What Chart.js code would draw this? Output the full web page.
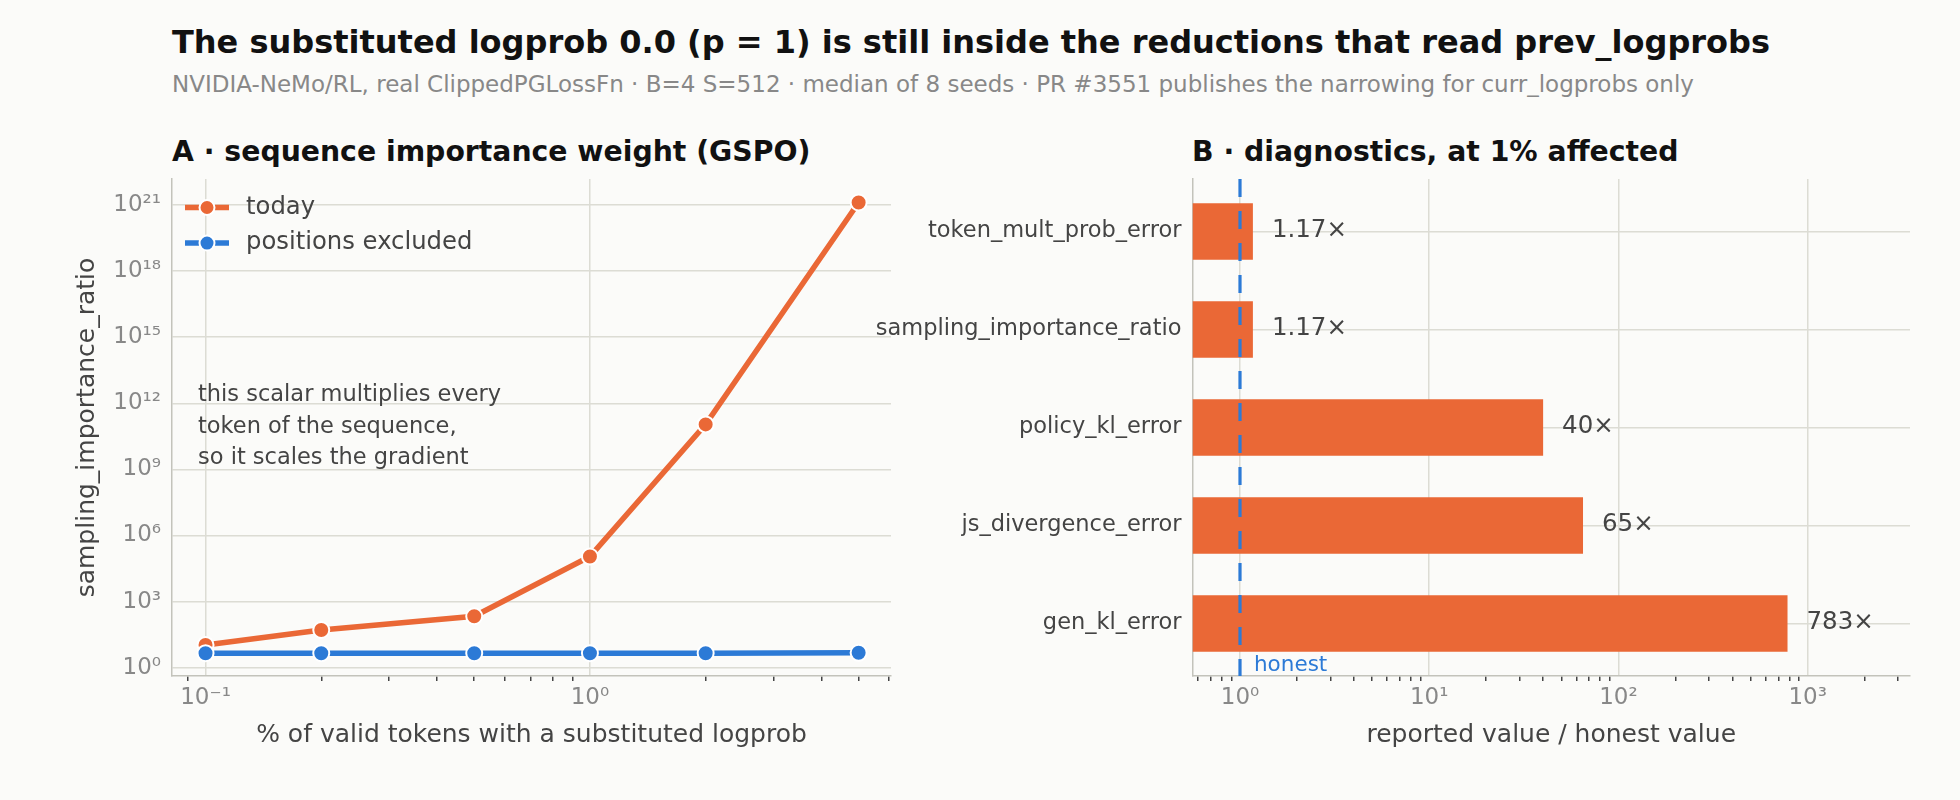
<!DOCTYPE html>
<html>
<head>
<meta charset="utf-8">
<script src="https://cdn.jsdelivr.net/npm/chart.js@4.4.1/dist/chart.umd.min.js"></script>
<style>
  html, body { margin: 0; padding: 0; background: #fbfbf9; }
  body { width: 1960px; height: 800px; position: relative; overflow: hidden; font-family: 'DejaVu Sans', sans-serif; }
  #titulo { position: absolute; left: 172px; top: 22.8px; font-size: 32px; line-height: normal; font-weight: bold; color: #111; white-space: nowrap; }
  #subtitulo { position: absolute; left: 172px; top: 71.2px; font-size: 23px; line-height: normal; color: #888; white-space: nowrap; }
  .panel { position: absolute; top: 135px; font-size: 28.3px; line-height: normal; font-weight: bold; color: #111; white-space: nowrap; }
  canvas { position: absolute; top: 0; }
</style>
</head>
<body>
<div id="titulo">The substituted logprob 0.0 (p = 1) is still inside the reductions that read prev_logprobs</div>
<div id="subtitulo">NVIDIA-NeMo/RL, real ClippedPGLossFn · B=4 S=512 · median of 8 seeds · PR #3551 publishes the narrowing for curr_logprobs only</div>
<div class="panel" style="left:172px">A · sequence importance weight (GSPO)</div>
<div class="panel" style="left:1192px">B · diagnostics, at 1% affected</div>
<canvas id="grafico-a" width="980" height="800" style="left:0"></canvas>
<canvas id="grafico-b" width="1100" height="800" style="left:860px"></canvas>
<script>
// Panel A: % de tokens sustituidos vs ratio
const pctTokens = [0.1, 0.2, 0.5, 1, 2, 5];
const ratioHoy = [10.7, 51, 215, 1.1e5, 1.1e11, 1.3e21];
const ratioExcluidas = [4.5, 4.5, 4.5, 4.5, 4.5, 4.7];
const xMayores = [0.1, 1];
const xEtiquetas = ['10⁻¹', '10⁰'];
const yMayores = [1, 1e3, 1e6, 1e9, 1e12, 1e15, 1e18, 1e21];
const yEtiquetas = ['10⁰', '10³', '10⁶', '10⁹', '10¹²', '10¹⁵', '10¹⁸', '10²¹'];
const notaA = ['this scalar multiplies every', 'token of the sequence,', 'so it scales the gradient'];

// Panel B: diagnosticos al 1%
const metricas = ['token_mult_prob_error', 'sampling_importance_ratio', 'policy_kl_error', 'js_divergence_error', 'gen_kl_error'];
const factores = [1.17, 1.17, 40, 65, 783];
const bMayores = [1, 10, 100, 1000];
const bEtiquetas = ['10⁰', '10¹', '10²', '10³'];
const valorHonesto = 1;

const NARANJA = '#ea6836';
const AZUL = '#2c7ad6';
const REJILLA = '#dcdcd4';
const EJE = '#c3c3bb';

Chart.defaults.font.family = "'DejaVu Sans', sans-serif";
Chart.defaults.color = '#444';

function indiceMayor(v, mayores) {
  if (v == null) return -1;
  return mayores.findIndex(m => Math.abs(v / m - 1) < 1e-9);
}

// marcas menores de un eje log (1..9 por decada)
function ticksLog(min, max) {
  const out = [];
  for (let e = Math.floor(Math.log10(min)); e <= Math.ceil(Math.log10(max)); e++) {
    for (let m = 1; m < 10; m++) {
      const v = m * Math.pow(10, e);
      if (v >= min && v <= max) out.push({ value: v });
    }
  }
  return out;
}

function ejeXLog(min, max, mayores, etiquetas, titulo) {
  return {
    type: 'logarithmic',
    min: min,
    max: max,
    afterBuildTicks: s => { s.ticks = ticksLog(min, max); },
    afterFit: s => { s.height = 124; },
    ticks: {
      autoSkip: false, maxRotation: 0, color: '#888', font: { size: 23 }, padding: 3,
      callback: v => { const i = indiceMayor(v, mayores); return i >= 0 ? etiquetas[i] : ''; }
    },
    grid: {
      color: c => indiceMayor(c.tick && c.tick.value, mayores) >= 0 ? REJILLA : 'rgba(0,0,0,0)',
      tickColor: c => indiceMayor(c.tick && c.tick.value, mayores) >= 0 ? 'rgba(0,0,0,0)' : '#444',
      lineWidth: 1.5, tickWidth: 1.5, tickLength: 5
    },
    border: { color: EJE, width: 1.5 },
    title: { display: true, text: titulo, color: '#444', font: { size: 25 }, padding: { top: 0, bottom: 50 } }
  };
}

// leyenda y nota dentro del area del grafico A
const extrasA = {
  id: 'extrasA',
  afterDraw(chart) {
    const { ctx, chartArea: a } = chart;
    ctx.save();
    chart.data.datasets.forEach((ds, i) => {
      const y = a.top + 28.5 + i * 35.6;
      ctx.strokeStyle = ds.borderColor;
      ctx.lineWidth = 5.5;
      ctx.beginPath();
      ctx.moveTo(a.left + 13, y);
      ctx.lineTo(a.left + 57, y);
      ctx.stroke();
      ctx.fillStyle = ds.borderColor;
      ctx.strokeStyle = '#fff';
      ctx.lineWidth = 2;
      ctx.beginPath();
      ctx.arc(a.left + 35, y, 7.5, 0, Math.PI * 2);
      ctx.fill();
      ctx.stroke();
      ctx.fillStyle = '#444';
      ctx.font = "24.3px 'DejaVu Sans'";
      ctx.textBaseline = 'middle';
      ctx.textAlign = 'left';
      ctx.fillText(ds.label, a.left + 74, y);
    });
    ctx.fillStyle = '#444';
    ctx.font = "22.5px 'DejaVu Sans'";
    notaA.forEach((t, i) => ctx.fillText(t, a.left + 26, a.top + 216.5 + i * 31.5));
    ctx.restore();
  }
};

new Chart(document.getElementById('grafico-a'), {
  type: 'line',
  data: {
    datasets: [{
      label: 'today',
      data: pctTokens.map((x, i) => ({ x: x, y: ratioHoy[i] })),
      borderColor: NARANJA, backgroundColor: NARANJA,
      borderWidth: 5.5, pointRadius: 8, pointBorderColor: '#fff', pointBorderWidth: 2,
      tension: 0, order: 1
    }, {
      label: 'positions excluded',
      data: pctTokens.map((x, i) => ({ x: x, y: ratioExcluidas[i] })),
      borderColor: AZUL, backgroundColor: AZUL,
      borderWidth: 5.5, pointRadius: 8, pointBorderColor: '#fff', pointBorderWidth: 2,
      tension: 0, order: 0
    }]
  },
  options: {
    responsive: false,
    animation: false,
    layout: { padding: { top: 179, right: 89, bottom: 0, left: 0 } },
    plugins: { legend: { display: false }, tooltip: { enabled: false } },
    scales: {
      x: ejeXLog(0.0818, 6.07, xMayores, xEtiquetas, '% of valid tokens with a substituted logprob'),
      y: {
        type: 'logarithmic',
        min: Math.pow(10, -0.38),
        max: Math.pow(10, 22.18),
        afterBuildTicks: s => { s.ticks = yMayores.map(v => ({ value: v })); },
        afterFit: s => { s.width = 172; },
        ticks: {
          color: '#888', font: { size: 23 }, padding: 11,
          callback: v => { const i = indiceMayor(v, yMayores); return i >= 0 ? yEtiquetas[i] : ''; }
        },
        grid: { color: REJILLA, lineWidth: 1.5, drawTicks: false },
        border: { color: EJE, width: 1.5 },
        title: { display: true, text: 'sampling_importance_ratio', color: '#444', font: { size: 25 }, padding: { top: 72.5, bottom: 0 } }
      }
    }
  },
  plugins: [extrasA]
});

// linea honesta y etiquetas de valor del grafico B
const extrasB = {
  id: 'extrasB',
  afterDatasetsDraw(chart) {
    const { ctx, chartArea: a, scales } = chart;
    const meta = chart.getDatasetMeta(0);
    ctx.save();
    ctx.fillStyle = '#444';
    ctx.font = "24.5px 'DejaVu Sans'";
    ctx.textBaseline = 'middle';
    ctx.textAlign = 'left';
    factores.forEach((v, i) => {
      ctx.fillText(v + '×', scales.x.getPixelForValue(v) + 19, meta.data[i].y - 1);
    });
    const xh = scales.x.getPixelForValue(valorHonesto);
    ctx.strokeStyle = AZUL;
    ctx.lineWidth = 3.2;
    ctx.setLineDash([18, 14]);
    ctx.beginPath();
    ctx.moveTo(xh, a.top);
    ctx.lineTo(xh, a.bottom);
    ctx.stroke();
    ctx.fillStyle = AZUL;
    ctx.font = "21.5px 'DejaVu Sans'";
    ctx.fillText('honest', xh + 14, a.bottom - 11);
    ctx.restore();
  }
};

new Chart(document.getElementById('grafico-b'), {
  type: 'bar',
  data: {
    datasets: [{
      data: factores.map((v, i) => ({ x: v, y: i })),
      backgroundColor: NARANJA,
      barPercentage: 0.575,
      categoryPercentage: 1
    }]
  },
  options: {
    indexAxis: 'y',
    responsive: false,
    animation: false,
    layout: { padding: { top: 179, right: 50, bottom: 0, left: 0 } },
    plugins: { legend: { display: false }, tooltip: { enabled: false } },
    scales: {
      x: ejeXLog(0.561, 3476, bMayores, bEtiquetas, 'reported value / honest value'),
      y: {
        type: 'linear',
        reverse: true,
        offset: false,
        min: -0.536,
        max: 4.536,
        afterFit: s => { s.width = 332.5; },
        ticks: {
          stepSize: 1, includeBounds: false, autoSkip: false,
          color: '#444', font: { size: 22.5 }, padding: 11,
          callback: v => metricas[v] || ''
        },
        grid: { offset: false, color: REJILLA, lineWidth: 1.5, drawTicks: false },
        border: { color: EJE, width: 1.5 }
      }
    }
  },
  plugins: [extrasB]
});
</script>
</body>
</html>
